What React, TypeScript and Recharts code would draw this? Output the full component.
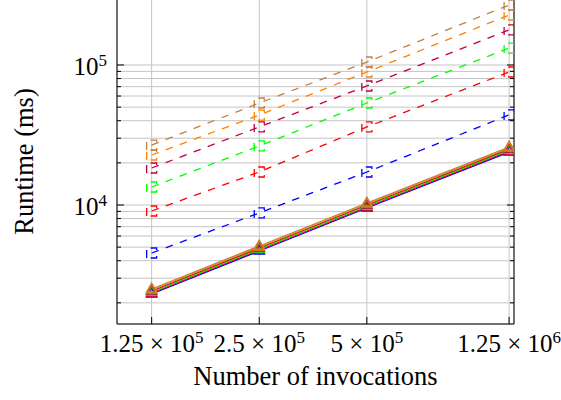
import React from 'react';
import { LineChart, Line, XAxis, YAxis, CartesianGrid } from 'recharts';

// ---------- data ----------
const invocations = [125000, 250000, 500000, 1250000];
const xTickMantissa = ['1.25', '2.5', '5', '1.25'];
const xTickExponent = ['5', '5', '5', '6'];

const dashedBlue = [4540, 8770, 17200, 44000];
const dashedRed = [9060, 17200, 36100, 89100];
const dashedGreen = [13440, 26400, 53500, 132000];
const dashedPurple = [18370, 36100, 70800, 178000];
const dashedOrange = [22750, 43900, 89100, 227500];
const dashedBrown = [26800, 53500, 105000, 268000];

const solidBlue = [2314, 4691, 9517, 23883];
const solidRed = [2352, 4769, 9675, 24279];
const solidGreen = [2391, 4848, 9836, 24682];
const solidPurple = [2431, 4928, 9999, 25091];
const solidOrange = [2471, 5010, 10165, 25507];
const solidBrown = [2512, 5093, 10334, 25930];

const yTicks = [
  2000, 3000, 4000, 5000, 6000, 7000, 8000, 9000, 10000,
  20000, 30000, 40000, 50000, 60000, 70000, 80000, 90000, 100000,
];
const yMajorTicks = [10000, 100000];
const yMajorExponent = ['4', '5'];

const xDomain = [100000, 1290000];
const yDomain = [1412.5, 296000];

const BLUE = '#0000ff';
const RED = '#ff0000';
const GREEN = '#00ff00';
const PURPLE = '#bf0040';
const ORANGE = '#ff8000';
const BROWN = '#bf8040';

const series = [
  { key: 'dBlue', color: BLUE, values: dashedBlue, dashed: true },
  { key: 'dRed', color: RED, values: dashedRed, dashed: true },
  { key: 'dGreen', color: GREEN, values: dashedGreen, dashed: true },
  { key: 'dPurple', color: PURPLE, values: dashedPurple, dashed: true },
  { key: 'dOrange', color: ORANGE, values: dashedOrange, dashed: true },
  { key: 'dBrown', color: BROWN, values: dashedBrown, dashed: true },
  { key: 'sBlue', color: BLUE, values: solidBlue, dashed: false },
  { key: 'sRed', color: RED, values: solidRed, dashed: false },
  { key: 'sGreen', color: GREEN, values: solidGreen, dashed: false },
  { key: 'sPurple', color: PURPLE, values: solidPurple, dashed: false },
  { key: 'sOrange', color: ORANGE, values: solidOrange, dashed: false },
  { key: 'sBrown', color: BROWN, values: solidBrown, dashed: false },
];

const rows = invocations.map((n, i) => {
  const r: Record<string, number> = { n };
  series.forEach((s) => {
    r[s.key] = s.values[i];
  });
  return r;
});

// ---------- styles ----------
const FONT = '"Liberation Serif", "DejaVu Serif", serif';
const FS = 25;
const TITLE_FS = 26.5;
const SUP = 17;
const GRID = '#c4c4c4';
const LW = 1.3;
const DASH = '7.5 7.5';
const MAJOR_LEN = 7;
const MINOR_LEN = 4;
const textStyle = { fontFamily: FONT, fontSize: FS, fill: '#000' };
const titleStyle = { fontFamily: FONT, fontSize: TITLE_FS, fill: '#000' };

// ---------- marks ----------
const SquareMark = (props: any) => {
  const { cx, cy, stroke } = props;
  if (cx == null || cy == null) return null;
  const h = 5;
  const d = `M${cx - h},${cy + h} L${cx - h},${cy - h} L${cx + h},${cy - h} L${cx + h},${cy + h} Z`;
  return <path d={d} fill="none" stroke={stroke} strokeWidth={LW} strokeDasharray="8 6" />;
};

const TriangleMark = (props: any) => {
  const { cx, cy, stroke } = props;
  if (cx == null || cy == null) return null;
  const r = 6;
  const dx = r * Math.cos(Math.PI / 6);
  const d = `M${cx},${cy - r} L${cx + dx},${cy + r / 2} L${cx - dx},${cy + r / 2} Z`;
  return <path d={d} fill="none" stroke={stroke} strokeWidth={LW} />;
};

// ---------- ticks ----------
const LeftTick = (props: any) => {
  const { x, y, payload } = props;
  const idx = yMajorTicks.indexOf(payload.value);
  const major = idx >= 0;
  return (
    <g>
      <line x1={x} x2={x + (major ? MAJOR_LEN : MINOR_LEN)} y1={y} y2={y} stroke="#000" strokeWidth={1} />
      {major && (
        <text x={x - 10} y={y + 10} textAnchor="end" style={textStyle}>
          10
          <tspan dy={-9} style={{ fontSize: SUP }}>{yMajorExponent[idx]}</tspan>
        </text>
      )}
    </g>
  );
};

const RightTick = (props: any) => {
  const { x, y, payload } = props;
  const major = yMajorTicks.indexOf(payload.value) >= 0;
  return (
    <line x1={x} x2={x - (major ? MAJOR_LEN : MINOR_LEN)} y1={y} y2={y} stroke="#000" strokeWidth={1} />
  );
};

const BottomTick = (props: any) => {
  const { x, y, payload } = props;
  const idx = invocations.indexOf(payload.value);
  return (
    <g>
      <line x1={x} x2={x} y1={y} y2={y - MAJOR_LEN} stroke="#000" strokeWidth={1} />
      <text x={x} y={y + 28} textAnchor="middle" style={textStyle}>
        {xTickMantissa[idx]} × 10
        <tspan dy={-9} style={{ fontSize: SUP }}>{xTickExponent[idx]}</tspan>
      </text>
    </g>
  );
};

const TopTick = (props: any) => {
  const { x, y } = props;
  return <line x1={x} x2={x} y1={y} y2={y + MAJOR_LEN} stroke="#000" strokeWidth={1} />;
};

const YLabel = (props: any) => {
  const vb = props.viewBox || {};
  const x = (vb.x || 0) + 33;
  const y = (vb.y || 0) + (vb.height || 0) / 2;
  return (
    <text x={x} y={y} transform={`rotate(-90, ${x}, ${y})`} textAnchor="middle" style={titleStyle}>
      Runtime (ms)
    </text>
  );
};

const XLabel = (props: any) => {
  const vb = props.viewBox || {};
  const x = (vb.x || 0) + (vb.width || 0) / 2;
  const y = (vb.y || 0) + 61;
  return (
    <text x={x} y={y} textAnchor="middle" style={titleStyle}>
      Number of invocations
    </text>
  );
};

export default function App() {
  return (
    <div style={{ position: 'absolute', left: 0, top: -1, background: '#fff' }}>
      <LineChart width={561} height={400} data={rows} margin={{ top: 0, right: 0, bottom: 0, left: 0 }}>
        <CartesianGrid stroke={GRID} strokeWidth={1} />
        <XAxis
          dataKey="n"
          type="number"
          scale="log"
          domain={xDomain}
          allowDataOverflow
          ticks={invocations}
          interval={0}
          height={75}
          tickSize={0}
          tickMargin={0}
          tickLine={false}
          axisLine={{ stroke: '#000', strokeWidth: 1 }}
          tick={(p: any) => <BottomTick {...p} />}
          label={(p: any) => <XLabel {...p} />}
        />
        <XAxis
          xAxisId="t"
          orientation="top"
          dataKey="n"
          type="number"
          scale="log"
          domain={xDomain}
          allowDataOverflow
          ticks={invocations}
          interval={0}
          height={0}
          tickSize={0}
          tickMargin={0}
          tickLine={false}
          axisLine={{ stroke: '#000', strokeWidth: 1 }}
          tick={(p: any) => <TopTick {...p} />}
        />
        <YAxis
          type="number"
          scale="log"
          domain={yDomain}
          allowDataOverflow
          ticks={yTicks}
          interval={0}
          width={117}
          tickSize={0}
          tickMargin={0}
          tickLine={false}
          axisLine={{ stroke: '#000', strokeWidth: 1 }}
          tick={(p: any) => <LeftTick {...p} />}
          label={(p: any) => <YLabel {...p} />}
        />
        <YAxis
          yAxisId="r"
          orientation="right"
          type="number"
          scale="log"
          domain={yDomain}
          allowDataOverflow
          ticks={yTicks}
          interval={0}
          width={47}
          tickSize={0}
          tickMargin={0}
          tickLine={false}
          axisLine={{ stroke: '#000', strokeWidth: 1 }}
          tick={(p: any) => <RightTick {...p} />}
        />
        {series.map((s) => (
          <Line
            key={s.key}
            dataKey={s.key}
            type="linear"
            stroke={s.color}
            strokeWidth={LW}
            strokeDasharray={s.dashed ? DASH : undefined}
            dot={(p: any) =>
              s.dashed ? <SquareMark key={`${s.key}-${p.index}`} {...p} stroke={s.color} /> : <TriangleMark key={`${s.key}-${p.index}`} {...p} stroke={s.color} />
            }
            activeDot={false}
            isAnimationActive={false}
          />
        ))}
      </LineChart>
    </div>
  );
}
